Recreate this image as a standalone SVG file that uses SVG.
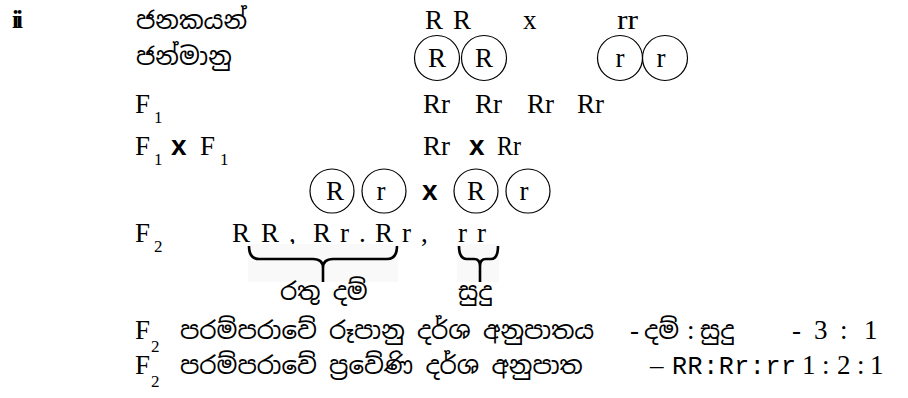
<svg xmlns="http://www.w3.org/2000/svg" width="908" height="398" viewBox="0 0 908 398">
<style>
.si{font-family:"Noto Sans Sinhala","Noto Serif Sinhala","Noto Sans",sans-serif;font-size:24.5px;fill:#000}
.mo{font-family:"Liberation Serif","Times New Roman",serif;font-size:27px;fill:#000}
.se{font-family:"Liberation Serif","Times New Roman",serif;font-size:27px;fill:#000}
.sub{font-family:"Liberation Serif","Times New Roman",serif;font-size:17px;fill:#000}
.bx{font-family:"Liberation Sans",Arial,sans-serif;font-size:28px;font-weight:bold;fill:#000}
.c{fill:none;stroke:#000;stroke-width:1.2}
.br{fill:none;stroke:#000;stroke-width:2.6;stroke-linecap:butt}
</style>
<rect width="908" height="398" fill="#fff"/>
<g id="label-ii"><text x="12" y="28" font-family="Liberation Serif,serif" font-size="25" font-weight="bold" letter-spacing="-3">ii</text></g>
<g id="row-parents">
<text class="si" x="136" y="29">ජනකයන්</text>
<text class="mo" x="425" y="29">R</text>
<text class="mo" x="453" y="29">R</text>
<text class="mo" x="523" y="29">x</text>
<text class="mo" x="617" y="29" textLength="21" lengthAdjust="spacingAndGlyphs">rr</text>
</g>
<g id="row-gametes">
<text class="si" x="136" y="65">ජන්මානු</text>
<circle class="c" cx="437" cy="58" r="22.5"/><text class="mo" x="437" y="67" text-anchor="middle">R</text>
<circle class="c" cx="484" cy="58" r="22.5"/><text class="mo" x="484" y="67" text-anchor="middle">R</text>
<circle class="c" cx="620" cy="58" r="22.5"/><text class="mo" x="620" y="67" text-anchor="middle">r</text>
<circle class="c" cx="665" cy="58" r="22.5"/><text class="mo" x="661" y="67" text-anchor="middle">r</text>
</g>
<g id="row-f1">
<text class="mo" x="135" y="113">F</text><text class="sub" x="154" y="123">1</text>
<text class="se" x="423" y="113">Rr</text>
<text class="se" x="475" y="113">Rr</text>
<text class="se" x="527" y="113">Rr</text>
<text class="se" x="577" y="113">Rr</text>
</g>
<g id="row-f1xf1">
<text class="mo" x="135" y="155">F</text><text class="sub" x="154" y="165">1</text>
<text class="bx" x="171" y="155">x</text>
<text class="mo" x="200" y="155">F</text><text class="sub" x="220" y="165">1</text>
<text class="se" x="423" y="155">Rr</text>
<text class="bx" x="469" y="155">x</text>
<text class="mo" x="497" y="155" textLength="24" lengthAdjust="spacingAndGlyphs" fill="#444">Rr</text>
</g>
<g id="row-f1-gametes">
<circle class="c" cx="332" cy="191" r="22"/><text class="mo" x="335" y="200" text-anchor="middle">R</text>
<circle class="c" cx="384" cy="191" r="22"/><text class="mo" x="381" y="200" text-anchor="middle">r</text>
<text class="bx" x="422" y="200">x</text>
<circle class="c" cx="476" cy="191" r="22"/><text class="mo" x="476" y="200" text-anchor="middle">R</text>
<circle class="c" cx="528" cy="191" r="22"/><text class="mo" x="524" y="200" text-anchor="middle">r</text>
</g>
<g id="row-f2">
<text class="mo" x="135" y="242">F</text><text class="sub" x="154" y="252">2</text>
<text class="se" x="232" y="242">R</text><text class="se" x="261" y="242">R</text><text class="se" x="289" y="242">,</text>
<text class="se" x="313" y="242">R</text><text class="se" x="340" y="242">r</text><text class="se" x="359" y="242">.</text>
<text class="se" x="375" y="242">R</text><text class="se" x="402" y="242">r</text><text class="se" x="421" y="242">,</text>
<text class="se" x="458" y="242">r</text><text class="se" x="477" y="242">r</text>
</g>
<g id="connectors">
<rect x="248" y="244" width="150" height="38" fill="#f9f9f9"/>
<rect x="457" y="244" width="42" height="38" fill="#f9f9f9"/>
<path class="br" d="M249,246 Q249,259 259,259 L313,259 Q323,259 323,268 L323,282 M323,268 Q323,259 333,259 L387,259 Q397,259 397,246"/>
<path class="br" d="M459,246 Q459,259 467,259 L474,259 Q480,259 480,266 L480,282 M480,266 Q480,259 486,259 L491,259 Q498,259 498,246"/>
</g>
<g id="labels">
<text class="si" x="280" y="300">රතු දම්</text>
<text class="si" x="458" y="300">සුදු</text>
</g>
<g id="row-phenotype">
<text class="mo" x="135" y="339">F</text><text class="sub" x="151" y="352">2</text>
<text class="si" x="180" y="339">පරම්පරාවේ රූපානු දර්ශ අනුපාතය</text>
<text class="se" x="630" y="339">-</text>
<text class="si" x="644" y="339">දම්</text>
<text class="se" x="687" y="339">:</text>
<text class="si" x="700" y="339">සුදු</text>
<text class="se" x="792" y="339">-</text>
<text class="se" x="814" y="339">3</text>
<text class="se" x="840" y="339">:</text>
<text class="se" x="864" y="339">1</text>
</g>
<g id="row-genotype">
<text class="mo" x="135" y="374">F</text><text class="sub" x="151" y="387">2</text>
<text class="si" x="180" y="374">පරම්පරාවේ ප්‍රවේණි දර්ශ අනුපාත</text>
<text class="se" x="650" y="374">–</text>
<text x="672" y="374" font-family="Liberation Mono,monospace" font-size="25" textLength="124" lengthAdjust="spacing">RR:Rr:rr</text>
<text class="se" x="802" y="374">1</text>
<text class="se" x="822" y="374">:</text>
<text class="se" x="837" y="374">2</text>
<text class="se" x="857" y="374">:</text>
<text class="se" x="870" y="374">1</text>
</g>
</svg>
